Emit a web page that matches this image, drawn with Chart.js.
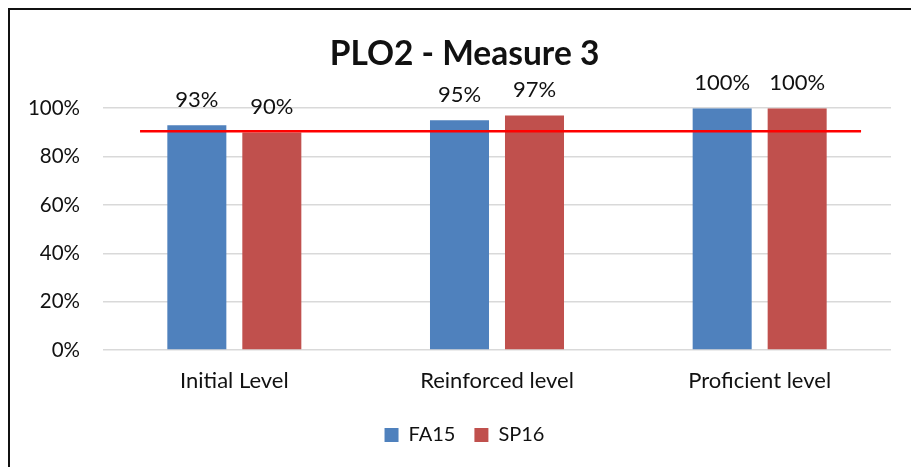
<!DOCTYPE html>
<html>
<head>
<meta charset="utf-8">
<script src="https://cdn.jsdelivr.net/npm/chart.js@4"></script>
<style>
    html, body { margin: 0; padding: 0; background: #fff; overflow: hidden; }
    #wrap { position: relative; width: 911px; height: 467px; }
    #frame { position: absolute; left: 8px; top: 8px; width: 1000px; height: 600px; border: 2px solid #111; }
    canvas { position: absolute; left: 0; top: 0; }
</style>
</head>
<body>
<div id="wrap">
    <div id="frame"></div>
    <canvas id="myChart" width="911" height="467"></canvas>
</div>
<script>
// dados do gráfico
const categorias = ['Initial Level', 'Reinforced level', 'Proficient level'];
const fa15 = [93, 95, 100];
const sp16 = [90, 97, 100];
const yTicks = [0, 20, 40, 60, 80, 100];
const meta = [90.5]; // linha vermelha

// rótulos de dados acima das barras
const rotulosPlugin = {
    id: 'rotulos',
    afterDatasetsDraw(chart) {
        const ctx = chart.ctx;
        ctx.save();
        ctx.font = '22px Lato';
        ctx.fillStyle = '#111';
        ctx.textAlign = 'center';
        ctx.textBaseline = 'alphabetic';
        chart.data.datasets.forEach((ds, i) => {
            chart.getDatasetMeta(i).data.forEach((bar, j) => {
                ctx.fillText(ds.data[j] + '%', bar.x, bar.y - 18);
            });
        });
        ctx.restore();
    }
};

// linha horizontal vermelha
const linhaPlugin = {
    id: 'linhaMeta',
    afterDatasetsDraw(chart) {
        const area = chart.chartArea;
        const y = chart.scales.y.getPixelForValue(meta[0]);
        const ctx = chart.ctx;
        ctx.save();
        ctx.strokeStyle = '#FF0000';
        ctx.lineWidth = 2.5;
        ctx.beginPath();
        ctx.moveTo(area.left + (area.right - area.left) * 0.047, y);
        ctx.lineTo(area.left + (area.right - area.left) * 0.962, y);
        ctx.stroke();
        ctx.restore();
    }
};

const ctx = document.getElementById('myChart').getContext('2d');
const myChart = new Chart(ctx, {
    type: 'bar',
    data: {
        labels: categorias,
        datasets: [{
            label: 'FA15',
            data: fa15,
            backgroundColor: '#4F81BD'
        }, {
            label: 'SP16',
            data: sp16,
            backgroundColor: '#C0504D'
        }]
    },
    options: {
        responsive: false,
        animation: false,
        categoryPercentage: 0.571,
        barPercentage: 0.787,
        layout: {
            padding: { top: 0, right: 0, bottom: 12, left: 18 }
        },
        plugins: {
            title: {
                display: true,
                text: 'PLO2 - Measure 3',
                color: '#111',
                font: { family: 'Lato', size: 33.5, weight: 'bold' },
                padding: { top: 34, bottom: 34 }
            },
            legend: {
                position: 'bottom',
                labels: {
                    color: '#111',
                    font: { family: 'Lato', size: 20 },
                    boxWidth: 14,
                    boxHeight: 14,
                    padding: 19
                }
            },
            tooltip: { enabled: false }
        },
        scales: {
            x: {
                grid: { display: false },
                border: { display: false },
                ticks: {
                    color: '#111',
                    font: { family: 'Lato', size: 22 },
                    padding: 10
                },
                afterFit(scale) { scale.height = 56; }
            },
            y: {
                min: 0,
                max: 100,
                afterBuildTicks(scale) {
                    scale.ticks = yTicks.map(v => ({ value: v }));
                },
                grid: { color: '#D9D9D9', lineWidth: 1.5, drawTicks: false },
                border: { display: false },
                ticks: {
                    color: '#111',
                    font: { family: 'Lato', size: 20.5 },
                    padding: 23,
                    callback: (v) => v + '%'
                },
                afterFit(scale) { scale.width = 85; }
            },
            // eixo vazio só para deixar espaço à direita
            y2: {
                position: 'right',
                grid: { display: false },
                border: { display: false },
                ticks: { display: false },
                afterFit(scale) { scale.width = 20; }
            }
        }
    },
    plugins: [rotulosPlugin, linhaPlugin]
});
</script>
</body>
</html>
